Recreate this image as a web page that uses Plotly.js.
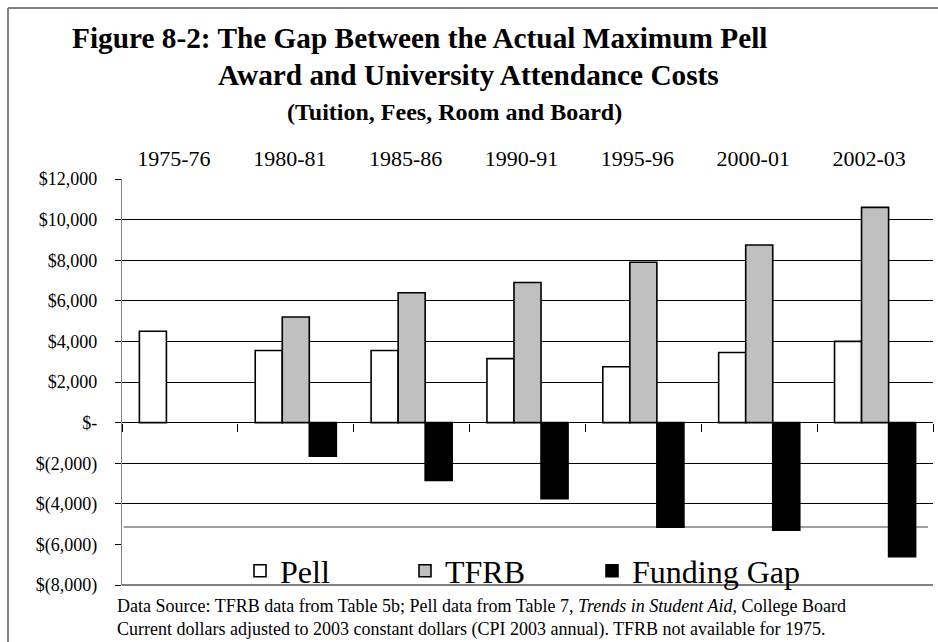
<!DOCTYPE html>
<html>
<head>
<meta charset="utf-8">
<script src="https://cdn.plot.ly/plotly-3.0.1.min.js"></script>
<style>
  html, body { margin: 0; padding: 0; background: #ffffff; }
  #chart { width: 938px; height: 642px; }
</style>
</head>
<body>
<div id="chart"></div>
<script>
// ---- data ----
const categories = ['1975-76', '1980-81', '1985-86', '1990-91', '1995-96', '2000-01', '2002-03'];
const pell = [4500, 3550, 3550, 3150, 2750, 3450, 4000];
const tfrb = [null, 5200, 6400, 6900, 7900, 8750, 10600];
const fundingGap = [null, -1650, -2850, -3750, -5150, -5300, -6600];

const seriesNames = ['Pell', 'TFRB', 'Funding Gap'];
const yTickVals = [-8000, -6000, -4000, -2000, 0, 2000, 4000, 6000, 8000, 10000, 12000];
const yTickText = ['$(8,000)', '$(6,000)', '$(4,000)', '$(2,000)', '$-', '$2,000', '$4,000', '$6,000', '$8,000', '$10,000', '$12,000'];
// grid lines visible above the legend panel
const gridVals = [-4000, -2000, 2000, 4000, 6000, 8000, 10000, 12000];

const titleLine1 = 'Figure 8-2: The Gap Between the Actual Maximum Pell';
const titleLine2 = 'Award and University Attendance Costs';
const subTitle = '(Tuition, Fees, Room and Board)';
const note1 = 'Data Source: TFRB data from Table 5b; Pell data from Table 7, <i>Trends in Student Aid,</i> College Board';
const note2 = 'Current dollars adjusted to 2003 constant dollars (CPI 2003 annual). TFRB not available for 1975.';

// ---- styling ----
const SERIF = 'Liberation Serif';
const W = 938, H = 642;
const M = { l: 122, r: 5, t: 179, b: 57 };
const PW = W - M.l - M.r, PH = H - M.t - M.b;
const px2x = (px) => (px - M.l) / PW;
const py2y = (py) => (H - M.b - py) / PH;

const outline = { color: '#000000', width: 1.6 };

const traces = [
  { type: 'bar', name: seriesNames[0], x: categories, y: pell,
    marker: { color: '#ffffff', line: outline }, legend: 'legend' },
  { type: 'bar', name: seriesNames[1], x: categories, y: tfrb,
    marker: { color: '#c0c0c0', line: outline }, legend: 'legend2' },
  { type: 'bar', name: seriesNames[2], x: categories, y: fundingGap,
    marker: { color: '#000000', line: outline }, legend: 'legend3' },
  // carrier for the zero-line tick marks and the grid axis
  { type: 'scatter', mode: 'markers', x: categories, y: categories.map(() => null),
    xaxis: 'x2', yaxis: 'y2', showlegend: false, hoverinfo: 'skip' }
];

const legendBase = (xpx) => ({
  x: px2x(xpx), y: py2y(571), xanchor: 'left', yanchor: 'middle',
  orientation: 'h', bgcolor: 'rgba(0,0,0,0)', borderwidth: 0,
  font: { family: SERIF, size: 32, color: '#000' }
});

const layout = {
  width: W, height: H,
  margin: M,
  paper_bgcolor: '#ffffff', plot_bgcolor: '#ffffff',
  font: { family: SERIF, color: '#000000' },
  barmode: 'group', bargap: 0.3, bargroupgap: 0,
  showlegend: true,
  legend: legendBase(240),
  legend2: legendBase(405),
  legend3: legendBase(592),
  xaxis: {
    type: 'category', side: 'top', anchor: 'y',
    showline: false, showgrid: false, zeroline: false, ticks: '',
    tickfont: { family: SERIF, size: 22, color: '#000' },
    ticklabelshift: -6, ticklabelstandoff: 8
  },
  xaxis2: {
    type: 'category', matches: 'x', overlaying: 'x', anchor: 'free', position: 0.4,
    side: 'bottom', showline: false, showgrid: false, zeroline: false,
    ticks: 'outside', tickson: 'boundaries', ticklen: 8, tickwidth: 1, tickcolor: '#000',
    showticklabels: false
  },
  yaxis: {
    range: [-8000, 12000], tickmode: 'array', tickvals: yTickVals, ticktext: yTickText,
    showline: true, linecolor: '#808080', linewidth: 1.2,
    ticks: 'outside', ticklen: 6, tickwidth: 1, tickcolor: '#000',
    showgrid: false,
    zeroline: true, zerolinecolor: '#000000', zerolinewidth: 1.2,
    tickfont: { family: SERIF, size: 18, color: '#000' },
    ticklabelstandoff: 14
  },
  yaxis2: {
    matches: 'y', overlaying: 'y', anchor: 'x2', side: 'left',
    tickmode: 'array', tickvals: gridVals,
    showgrid: true, gridcolor: '#000000', gridwidth: 1,
    showline: false, zeroline: false, ticks: '', showticklabels: false
  },
  shapes: [
    // legend panel edges
    { type: 'line', xref: 'paper', yref: 'paper', x0: 0.002, x1: px2x(928), y0: py2y(527), y1: py2y(527),
      line: { color: '#808080', width: 1.5 }, layer: 'below' },
    { type: 'line', xref: 'paper', yref: 'paper', x0: 0, x1: 1, y0: 0, y1: 0,
      line: { color: '#000000', width: 1 }, layer: 'below' },
    // outer frame (top and left edges)
    { type: 'line', xref: 'paper', yref: 'paper', x0: px2x(8), x1: px2x(960), y0: py2y(8), y1: py2y(8),
      line: { color: '#808080', width: 2 } },
    { type: 'line', xref: 'paper', yref: 'paper', x0: px2x(8), x1: px2x(8), y0: py2y(8), y1: py2y(700),
      line: { color: '#808080', width: 2 } }
  ],
  annotations: [
    { text: '<b>' + titleLine1 + '</b>', xref: 'paper', yref: 'paper', x: px2x(70), y: py2y(38),
      xanchor: 'left', yanchor: 'middle', showarrow: false, font: { family: SERIF, size: 29.3, color: '#000' } },
    { text: '<b>' + titleLine2 + '</b>', xref: 'paper', yref: 'paper', x: px2x(216), y: py2y(75),
      xanchor: 'left', yanchor: 'middle', showarrow: false, font: { family: SERIF, size: 29.3, color: '#000' } },
    { text: '<b>' + subTitle + '</b>', xref: 'paper', yref: 'paper', x: px2x(454), y: py2y(112),
      xanchor: 'center', yanchor: 'middle', showarrow: false, font: { family: SERIF, size: 24, color: '#000' } },
    { text: note1, xref: 'paper', yref: 'paper', x: px2x(116), y: py2y(606),
      xanchor: 'left', yanchor: 'middle', showarrow: false, borderpad: 0,
      font: { family: SERIF, size: 18, color: '#000' } },
    { text: note2, xref: 'paper', yref: 'paper', x: px2x(116), y: py2y(629),
      xanchor: 'left', yanchor: 'middle', showarrow: false, borderpad: 0,
      font: { family: SERIF, size: 18, color: '#000' } }
  ]
};

Plotly.newPlot('chart', traces, layout, { displayModeBar: false, staticPlot: true });
</script>
</body>
</html>
